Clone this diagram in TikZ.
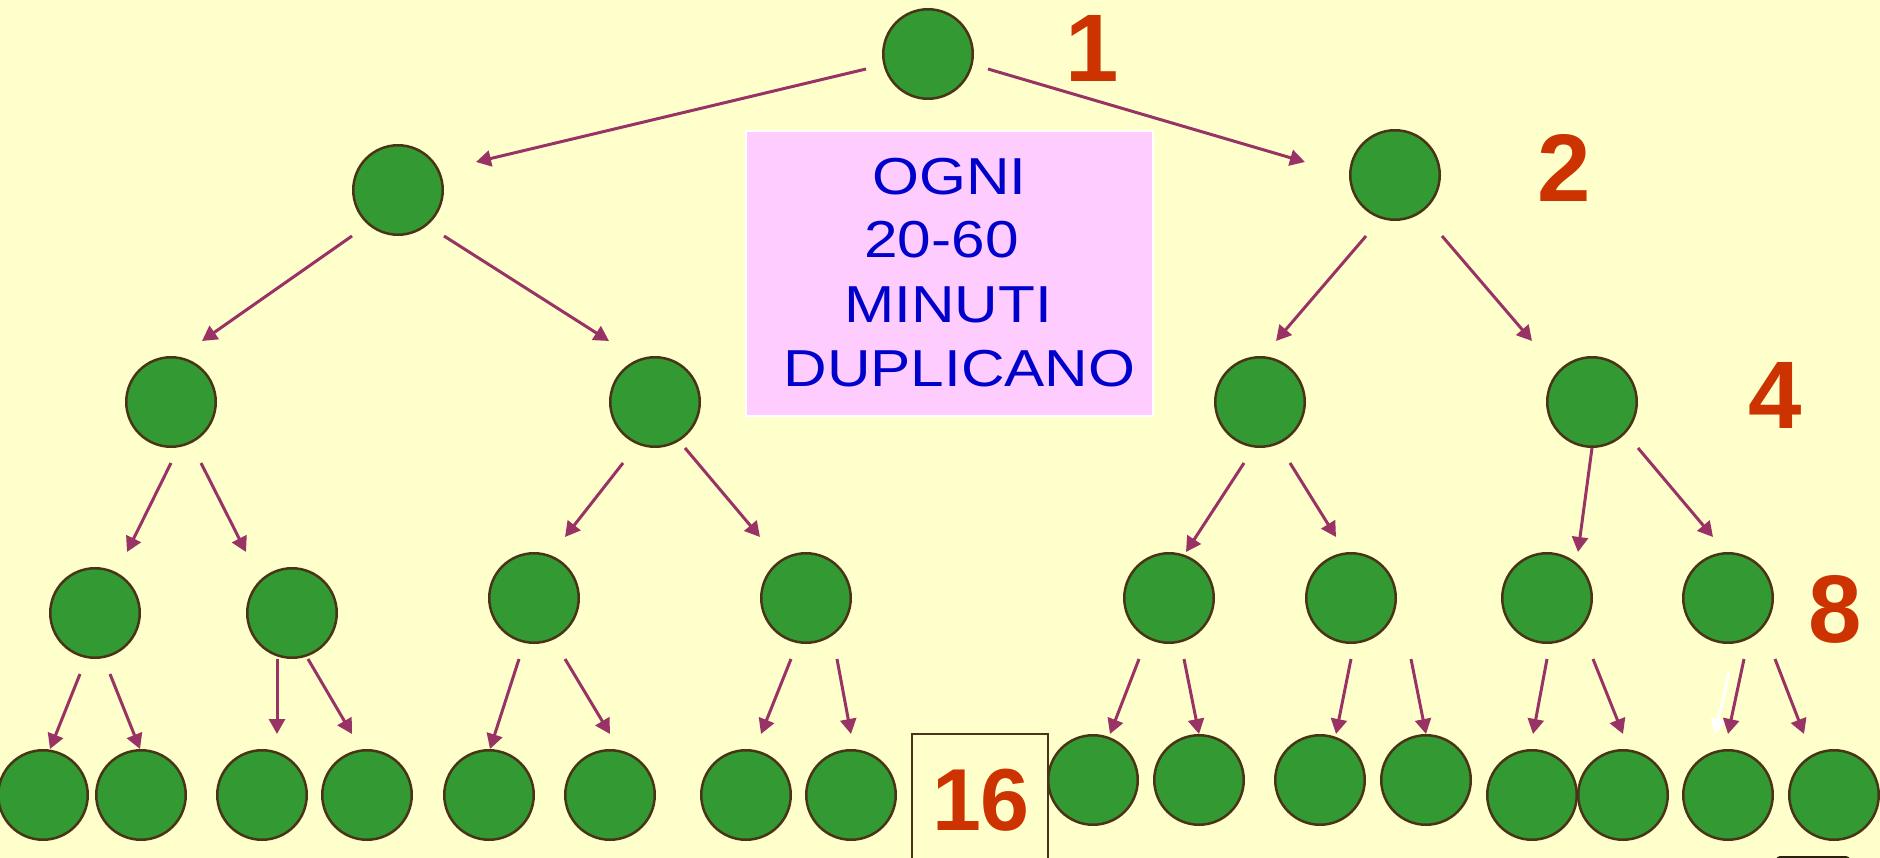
\documentclass[tikz,border=0pt]{standalone}
\usepackage{fontspec}
\setmainfont{Liberation Sans}
\newfontfamily\boxfont[FakeStretch=1.16]{Liberation Sans}
\usetikzlibrary{arrows.meta,calc}
\definecolor{bg}{HTML}{FFFFCC}
\definecolor{leaf}{HTML}{339933}
\definecolor{rim}{HTML}{4A3418}
\definecolor{arrowc}{HTML}{993366}
\definecolor{pinkbox}{HTML}{FFCCFF}
\definecolor{txtblue}{HTML}{0000CC}
\definecolor{numred}{HTML}{CC3300}
\begin{document}
\begin{tikzpicture}[x=1pt,y=-1pt,
 cell/.style={circle,fill=leaf,draw=rim,line width=2.5pt,minimum size=89.5pt,inner sep=0pt},
 arr/.style={draw=arrowc,line width=3pt,-{Triangle[length=15pt,width=16pt]}},
 warr/.style={draw=white,line width=3pt,-{Triangle[length=15pt,width=16pt]}},
 num/.style={text=numred,font=\fontsize{96}{96}\selectfont\bfseries,anchor=base,inner sep=0pt},
 btxt/.style={text=txtblue,font=\boxfont\fontsize{52}{52}\selectfont,anchor=base,inner sep=0pt}]
\useasboundingbox (0,0) rectangle (1880,858);
\clip (0,0) rectangle (1880,858);
\fill[bg] (0,0) rectangle (1880,858);

% pink text box
\node[draw=white,line width=2pt,fill=pinkbox,inner sep=0pt,minimum width=407pt,minimum height=285pt] (box) at (949.5,273.5) {};
\node[btxt] (t1) at (949.5,195) {OGNI};
\node[btxt] (t2) at (941.5,258) {20-60};
\node[btxt] (t3) at (948,323) {MINUTI};
\node[btxt] (t4) at (959.5,387) {DUPLICANO};

% 16 box
\node[draw=rim,line width=2.5pt,inner sep=0pt,minimum width=136pt,minimum height=130pt] (b16) at (980,799) {};
\node[num,font=\fontsize{88}{88}\selectfont\bfseries] (n16) at (981,830) {16};

% level numbers
\node[num] (n1) at (1092,82) {1};
\node[num] (n2) at (1564,202) {2};
\node[num] (n4) at (1775,429) {4};
\node[num] (n8) at (1835,642) {8};

% cells
\node[cell] (r0) at (928,54) {};
\node[cell] (r1a) at (398,190) {};
\node[cell] (r1b) at (1395,175) {};
\node[cell] (r2a) at (171,402) {};
\node[cell] (r2b) at (655,402) {};
\node[cell] (r2c) at (1260,402) {};
\node[cell] (r2d) at (1592,402) {};
\node[cell] (r3a) at (95,613) {};
\node[cell] (r3b) at (292,613) {};
\node[cell] (r3c) at (534,598) {};
\node[cell] (r3d) at (806,598) {};
\node[cell] (r3e) at (1169,598) {};
\node[cell] (r3f) at (1351,598) {};
\node[cell] (r3g) at (1547,598) {};
\node[cell] (r3h) at (1728,598) {};
\node[cell] (a1) at (43,795) {};
\node[cell] (a2) at (141,795) {};
\node[cell] (b1) at (262,795) {};
\node[cell] (b2) at (367,795) {};
\node[cell] (c1) at (489,795) {};
\node[cell] (c2) at (610,795) {};
\node[cell] (d1) at (746,795) {};
\node[cell] (d2) at (851,795) {};
\node[cell] (e1) at (1093,780) {};
\node[cell] (e2) at (1199,780) {};
\node[cell] (f1) at (1320,780) {};
\node[cell] (f2) at (1426,780) {};
\node[cell] (g1) at (1532,795) {};
\node[cell] (g2) at (1623,795) {};
\node[cell] (h1) at (1728,795) {};
\node[cell] (h2) at (1834,795) {};

% arrows
\draw[arr] ($(r0)+(-62,15)$) -- ($(r1a)+(78,-28)$);
\draw[arr] ($(r0)+(60,15)$) -- ($(r1b)+(-90,-13)$);
\draw[arr] ($(r1a)+(-46,46)$) -- ($(r2a)+(31,-61)$);
\draw[arr] ($(r1a)+(46,46)$) -- ($(r2b)+(-46,-61)$);
\draw[arr] ($(r1b)+(-29,61)$) -- ($(r2c)+(16,-61)$);
\draw[arr] ($(r1b)+(47,61)$) -- ($(r2d)+(-60,-61)$);
\draw[arr] ($(r2a)+(0,61)$) -- ($(r3a)+(32,-61)$);
\draw[arr] ($(r2a)+(30,61)$) -- ($(r3b)+(-46,-61)$);
\draw[arr] ($(r2b)+(-32,61)$) -- ($(r3c)+(31,-61)$);
\draw[arr] ($(r2b)+(30,46)$) -- ($(r3d)+(-46,-61)$);
\draw[arr] ($(r2c)+(-16,61)$) -- ($(r3e)+(17,-46)$);
\draw[arr] ($(r2c)+(30,61)$) -- ($(r3f)+(-15,-61)$);
\draw[arr] ($(r2d)+(0,46)$) -- ($(r3g)+(31,-46)$);
\draw[arr] ($(r2d)+(46,46)$) -- ($(r3h)+(-15,-61)$);
\draw[arr] ($(r3a)+(-15,61)$) -- ($(a1)+(7,-46)$);
\draw[arr] ($(r3a)+(15,61)$) -- ($(a2)+(-1,-46)$);
\draw[arr] ($(r3b)+(-15,46)$) -- ($(b1)+(15,-61)$);
\draw[arr] ($(r3b)+(16,46)$) -- ($(b2)+(-15,-61)$);
\draw[arr] ($(r3c)+(-15,61)$) -- ($(c1)+(1,-46)$);
\draw[arr] ($(r3c)+(31,61)$) -- ($(c2)+(0,-61)$);
\draw[arr] ($(r3d)+(-15,61)$) -- ($(d1)+(15,-61)$);
\draw[arr] ($(r3d)+(31,61)$) -- ($(d2)+(0,-61)$);
\draw[arr] ($(r3e)+(-30,61)$) -- ($(e1)+(17,-46)$);
\draw[arr] ($(r3e)+(15,61)$) -- ($(e2)+(0,-46)$);
\draw[arr] ($(r3f)+(0,61)$) -- ($(f1)+(16,-46)$);
\draw[arr] ($(r3f)+(60,61)$) -- ($(f2)+(0,-46)$);
\draw[arr] ($(r3g)+(0,61)$) -- ($(g1)+(1,-61)$);
\draw[arr] ($(r3g)+(46,61)$) -- ($(g2)+(0,-61)$);
\draw[warr] ($(r3h)+(1,75)$) -- ($(h1)+(-13,-61)$);
\draw[arr] ($(r3h)+(16,61)$) -- ($(h1)+(0,-61)$);
\draw[arr] ($(r3h)+(47,61)$) -- ($(h2)+(-30,-61)$);

% dark sliver at bottom right
\fill[rim!60!black,rounded corners=4pt] (1776,856) rectangle (1850,880);
\end{tikzpicture}
\end{document}
